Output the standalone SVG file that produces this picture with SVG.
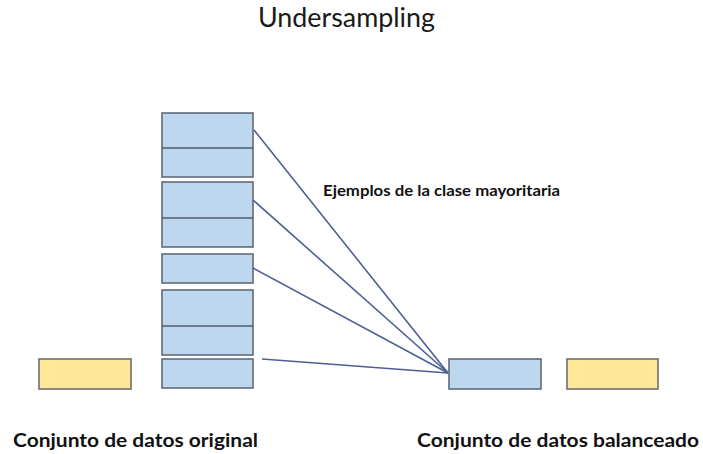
<svg xmlns="http://www.w3.org/2000/svg" width="703" height="454" viewBox="0 0 703 454">
  <style>
    .maj { fill: #bdd7ee; stroke: #5f6b7a; stroke-width: 1.6; }
    .min { fill: #ffe699; stroke: #6f6f6f; stroke-width: 1.6; }
    .sep { stroke: #4f5d6e; stroke-width: 1.6; }
    .link { stroke: #4d5f96; stroke-width: 1.6; fill: none; }
    .title { font-family: Lato, "Open Sans", "Liberation Sans", sans-serif; font-size: 26px; fill: #1a1a1a; }
    .lbl { font-family: Lato, "Open Sans", "Liberation Sans", sans-serif; font-weight: bold; fill: #111; }
  </style>

  <text class="title" x="258" y="27" textLength="177" lengthAdjust="spacingAndGlyphs">Undersampling</text>

  <!-- majority-class samples in the original set -->
  <g id="maj-1">
    <rect class="maj" x="162" y="113" width="91" height="64"/>
    <line class="sep" x1="162" y1="148" x2="253" y2="148"/>
  </g>
  <g id="maj-2">
    <rect class="maj" x="162" y="182" width="91" height="65"/>
    <line class="sep" x1="162" y1="218" x2="253" y2="218"/>
  </g>
  <g id="maj-3">
    <rect class="maj" x="162" y="254" width="91" height="29"/>
  </g>
  <g id="maj-4">
    <rect class="maj" x="162" y="290" width="91" height="65"/>
    <line class="sep" x1="162" y1="326" x2="253" y2="326"/>
  </g>
  <g id="maj-5">
    <rect class="maj" x="162" y="359" width="91" height="29"/>
  </g>

  <!-- minority-class sample in the original set -->
  <g id="min-original">
    <rect class="min" x="39" y="359" width="92" height="30"/>
  </g>

  <!-- balanced set -->
  <g id="maj-balanced">
    <rect class="maj" x="449" y="359" width="92" height="30"/>
  </g>
  <g id="min-balanced">
    <rect class="min" x="567" y="359" width="91" height="30"/>
  </g>

  <g id="connectors">
    <line class="link" x1="254" y1="130" x2="448" y2="373"/>
    <line class="link" x1="253" y1="200" x2="448" y2="373"/>
    <line class="link" x1="253" y1="268" x2="448" y2="373"/>
    <line class="link" x1="262" y1="359" x2="448" y2="373"/>
  </g>

  <text class="lbl" x="323" y="196" font-size="15" textLength="237" lengthAdjust="spacingAndGlyphs">Ejemplos de la clase mayoritaria</text>
  <text class="lbl" x="13" y="447" font-size="19" textLength="245" lengthAdjust="spacingAndGlyphs">Conjunto de datos original</text>
  <text class="lbl" x="417" y="447" font-size="19" textLength="282" lengthAdjust="spacingAndGlyphs">Conjunto de datos balanceado</text>
</svg>
